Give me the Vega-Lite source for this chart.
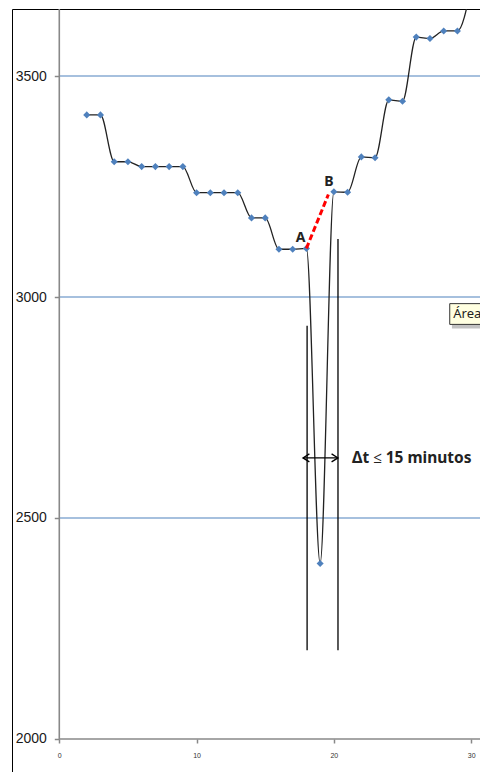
{
  "$schema": "https://vega.github.io/schema/vega-lite/v6.json",
  "width": 470,
  "height": 765,
  "autosize": {"type": "none"},
  "padding": {"left": 12, "top": 9, "right": 0, "bottom": 0},
  "config": {"view": {"stroke": "#000000", "strokeWidth": 1}},
  "datasets": {
    "grid": [
      {"y": 2500, "x": 0, "x2": 30.79},
      {"y": 3000, "x": 0, "x2": 30.79},
      {"y": 3500, "x": 0, "x2": 30.79}
    ],
    "axislines": [
      {"x": 0, "x2": 0, "y": 2000, "y2": 3651.6},
      {"x": 0, "x2": 30.79, "y": 2000, "y2": 2000}
    ],
    "series": [
      {"x": 2, "y": 3412}, {"x": 3, "y": 3412}, {"x": 4, "y": 3306}, {"x": 5, "y": 3306},
      {"x": 6, "y": 3295}, {"x": 7, "y": 3295}, {"x": 8, "y": 3295}, {"x": 9, "y": 3295},
      {"x": 10, "y": 3236}, {"x": 11, "y": 3236}, {"x": 12, "y": 3236}, {"x": 13, "y": 3236},
      {"x": 14, "y": 3179}, {"x": 15, "y": 3179}, {"x": 16, "y": 3108}, {"x": 17, "y": 3108},
      {"x": 18, "y": 3110}, {"x": 19, "y": 2397}, {"x": 20, "y": 3238}, {"x": 21, "y": 3237},
      {"x": 22, "y": 3317}, {"x": 23, "y": 3315}, {"x": 24, "y": 3446}, {"x": 25, "y": 3443},
      {"x": 26, "y": 3588}, {"x": 27, "y": 3585}, {"x": 28, "y": 3602}, {"x": 29, "y": 3602},
      {"x": 30, "y": 3700}
    ],
    "dashed": [{"x": 18, "y": 3110}, {"x": 19.6, "y": 3232}],
    "vlines": [
      {"x": 18.05, "y": 2201, "y2": 2935},
      {"x": 20.3, "y": 2201, "y2": 3131}
    ],
    "arrow": [{"x": 17.75, "x2": 20.3, "y": 2636}],
    "heads": [
      {"x": 17.75, "y": 2636, "dir": "left"},
      {"x": 20.3, "y": 2636, "dir": "right"}
    ],
    "letters": [
      {"x": 17.58, "y": 3133, "label": "A"},
      {"x": 19.64, "y": 3260, "label": "B"}
    ],
    "note": [{"x": 21.32, "y": 2636, "label": "Δt ≤ 15 minutos"}],
    "tipbox": [{"x": 28.44, "x2": 32, "y": 2985, "y2": 2938}],
    "tipshadow": [{"x": 28.6, "x2": 32, "y": 2978, "y2": 2929}],
    "tiptext": [{"x": 28.7, "y": 2962, "label": "Área"}]
  },
  "encoding": {
    "x": {"field": "x", "type": "quantitative",
          "scale": {"domain": [-3.445, 30.79], "nice": false, "zero": false},
          "axis": {"orient": "bottom", "offset": -35, "values": [0, 10, 20, 30], "format": "d", "domain": false, "grid": false,
                   "ticks": true, "tickSize": 4, "tickColor": "#888888", "tickWidth": 1.5,
                   "labelFontSize": 7, "labelFont": "Liberation Sans", "labelColor": "#333333",
                   "labelPadding": 8, "title": null}},
    "y": {"field": "y", "type": "quantitative",
          "scale": {"domain": [1920.8, 3651.6], "nice": false, "zero": false},
          "axis": {"orient": "left", "offset": -47.3, "values": [2000, 2500, 3000, 3500], "format": "d", "domain": false, "grid": false,
                   "ticks": true, "tickSize": 5, "tickColor": "#888888", "tickWidth": 1.5,
                   "labelFontSize": 14, "labelFont": "Liberation Sans", "labelColor": "#1a1a1a",
                   "labelPadding": 8, "title": null}}
  },
  "layer": [
    {
      "data": {"name": "grid"},
      "mark": {"type": "rule", "color": "#4f81bd", "strokeWidth": 1.2},
      "encoding": {"x2": {"field": "x2"}}
    },
    {
      "data": {"name": "axislines"},
      "mark": {"type": "rule", "color": "#888888", "strokeWidth": 1.6},
      "encoding": {"x2": {"field": "x2"}, "y2": {"field": "y2"}}
    },
    {
      "data": {"name": "series"},
      "mark": {"type": "line", "color": "#222222", "strokeWidth": 1.3, "interpolate": "monotone", "clip": true},
      "encoding": {}
    },
    {
      "data": {"name": "series"},
      "mark": {"type": "point", "shape": "diamond", "filled": true, "color": "#4f81bd", "size": 50, "opacity": 1, "clip": true},
      "encoding": {}
    },
    {
      "data": {"name": "dashed"},
      "mark": {"type": "line", "color": "#ff0000", "strokeWidth": 3, "strokeDash": [6, 3]},
      "encoding": {}
    },
    {
      "data": {"name": "vlines"},
      "mark": {"type": "rule", "color": "#000000", "strokeWidth": 1.3},
      "encoding": {"y2": {"field": "y2"}}
    },
    {
      "data": {"name": "arrow"},
      "mark": {"type": "rule", "color": "#000000", "strokeWidth": 1.3},
      "encoding": {"x2": {"field": "x2"}}
    },
    {
      "data": {"name": "heads"},
      "mark": {"type": "point", "filled": false, "color": "#000000", "strokeWidth": 1.3, "size": 64, "opacity": 1},
      "encoding": {
        "shape": {"field": "dir", "type": "nominal",
                  "scale": {"domain": ["left", "right"], "range": ["M1.6,-1L0,0L1.6,1", "M-1.6,-1L0,0L-1.6,1"]},
                  "legend": null}
      }
    },
    {
      "data": {"name": "letters"},
      "mark": {"type": "text", "font": "Noto Sans", "fontSize": 14, "fontWeight": "bold", "color": "#222222", "align": "center", "baseline": "middle"},
      "encoding": {"text": {"field": "label"}}
    },
    {
      "data": {"name": "note"},
      "mark": {"type": "text", "font": "Noto Sans", "fontSize": 15.5, "fontWeight": "bold", "color": "#222222", "align": "left", "baseline": "middle"},
      "encoding": {"text": {"field": "label"}}
    },
    {
      "data": {"name": "tipshadow"},
      "mark": {"type": "rect", "color": "#999999", "opacity": 0.6, "clip": true},
      "encoding": {"x2": {"field": "x2"}, "y2": {"field": "y2"}}
    },
    {
      "data": {"name": "tipbox"},
      "mark": {"type": "rect", "fill": "#ffffe1", "stroke": "#333333", "strokeWidth": 1, "clip": true},
      "encoding": {"x2": {"field": "x2"}, "y2": {"field": "y2"}}
    },
    {
      "data": {"name": "tiptext"},
      "mark": {"type": "text", "font": "Noto Sans", "fontSize": 13, "color": "#222222", "align": "left", "baseline": "middle", "clip": true},
      "encoding": {"text": {"field": "label"}}
    }
  ]
}
